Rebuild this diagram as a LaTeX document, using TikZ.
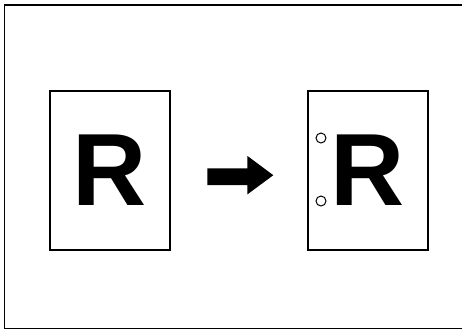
\documentclass[tikz,border=0pt]{standalone}
\usepackage{fontspec}
\setmainfont{Liberation Sans}
\usetikzlibrary{positioning}

\begin{document}
\begin{tikzpicture}[
	x=0.75pt, y=-0.75pt,
	page/.style={rectangle, draw=black, line width=1.3pt, minimum width=90pt, minimum height=119.25pt, inner sep=0pt, font=\fontsize{77}{77}\selectfont\bfseries},
	hole/.style={circle, draw=black, line width=0.75pt, minimum size=7.5pt, inner sep=0pt},
	frame/.style={draw=black, line width=0.8pt}
	]
	% Frame
	\useasboundingbox (0,0) rectangle (462,330);
	\draw[frame] (463,5) -- (4.5,5) -- (4.5,328.5) -- (463,328.5);
	
	% Define nodes
	\node[page] (orig) at (110,170.5) {R};
	\node[page] (punched) at (367.7,170.5) {R};
	\node[hole] (holetop) at (321,138) {};
	\node[hole] (holebot) at (321,201) {};
	
	% Arrow
	\fill[black] (207.3,168.3) -- (247.5,168.3) -- (247.5,156) -- (273.3,175.2)
		-- (247.5,194.3) -- (247.5,185) -- (207.3,185) -- cycle;
\end{tikzpicture}
\end{document}
